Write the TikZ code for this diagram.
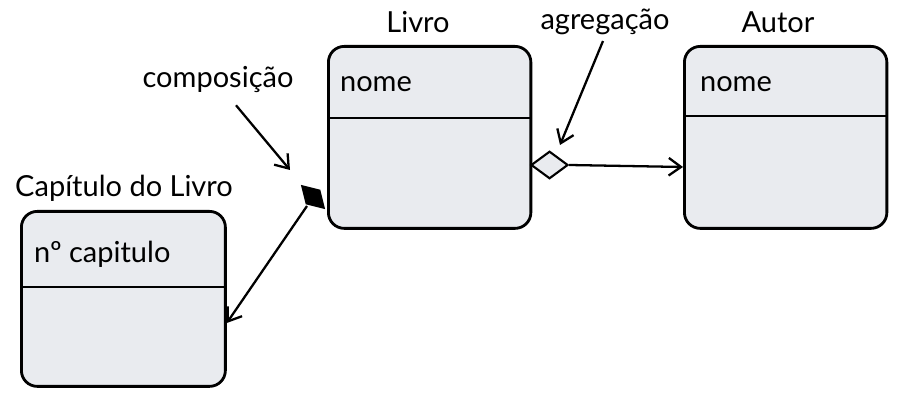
\documentclass[tikz,border=0pt]{standalone}
\usepackage{fontspec}
\setmainfont{Lato}
\usetikzlibrary{positioning,arrows.meta,shapes.geometric}
\definecolor{boxfill}{HTML}{E9EBEF}
\tikzset{
  classe/.style={draw,line width=1.6pt,fill=boxfill,rounded corners=9pt,minimum width=4.05cm,inner sep=0pt},
  rotulo/.style={font=\fontsize{16.5}{19}\selectfont,inner sep=1pt},
  seta/.style={line width=1.3pt,-{Straight Barb[length=7pt,width=10pt]}}
}
\begin{document}
\begin{tikzpicture}[x=0.02cm,y=-0.02cm]
\useasboundingbox (0,0) rectangle (902,404);

% classes
\node[classe,minimum height=3.64cm,anchor=north west] (livro) at (327,45) {};
\node[classe,minimum height=3.64cm,anchor=north west] (autor) at (683,45) {};
\node[classe,minimum width=4.08cm,minimum height=3.5cm,anchor=north west] (cap) at (20,210) {};
\draw[line width=1.6pt] (327,118) coordinate (l1) -- (530,118) coordinate (l2);
\draw[line width=1.6pt] (683,116) coordinate (a1) -- (886,116) coordinate (a2);
\draw[line width=1.6pt] (20,287) coordinate (c1) -- (224,287) coordinate (c2);

% textos
\node[rotulo] (tlivro) at (418,22) {Livro};
\node[rotulo] (tautor) at (778,22) {Autor};
\node[rotulo] (tcap) at (124,188) {Capítulo do Livro};
\node[rotulo,anchor=west] (nl) at (338,84) {nome};
\node[rotulo,anchor=west] (na) at (698,84) {nome};
\node[rotulo,anchor=west] (nc) at (32,254) {nº capitulo};
\node[rotulo] (tcomp) at (218,80) {composição};
\node[rotulo] (tagr) at (605,22) {agregação};

% agregacao
\node[diamond,draw,line width=1.2pt,fill=boxfill,minimum width=0.74cm,minimum height=0.55cm,inner sep=0pt,anchor=west] (dagr) at (530,165) {};
\draw[seta] (dagr.east) -- (autor.west |- 0,167);
\draw[seta] (tagr.south) ++(-2,4) coordinate (ta) -- (560,145) coordinate (pa);

% composicao
\node[diamond,draw,line width=1.2pt,fill=black,minimum width=0.62cm,minimum height=0.62cm,inner sep=0pt,rotate=45,xscale=0.6] (dcomp) at (313,197) {};
\draw[seta] (dcomp.center) ++(-6,9) coordinate (dc) -- (cap.east |- 0,323);
\draw[seta] (tcomp.south) ++(18,10) coordinate (tc) -- (290,170) coordinate (pc);
\end{tikzpicture}
\end{document}
